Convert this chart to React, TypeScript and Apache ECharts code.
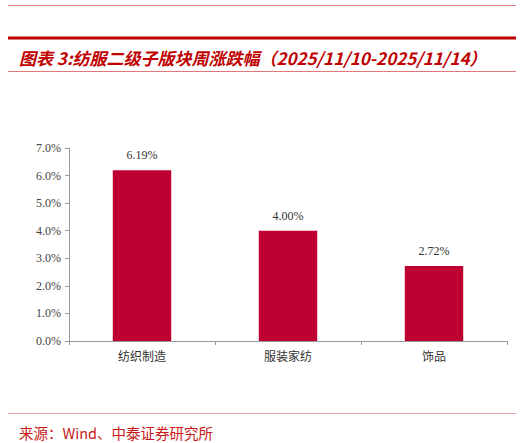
import React, { useEffect, useRef } from "react";
import * as echarts from "echarts";

const categories = ["纺织制造", "服装家纺", "饰品"];
const values = [6.19, 4.0, 2.72];
const yTicks = { min: 0, max: 7, interval: 1 };
const titleText = "图表 3:纺服二级子版块周涨跌幅（2025/11/10-2025/11/14）";
const sourceText = "来源：Wind、中泰证券研究所";

export default function App() {
  const ref = useRef<HTMLDivElement>(null);
  useEffect(() => {
    if (!ref.current) return;
    const chart = echarts.init(ref.current, undefined, { renderer: "svg" });
    chart.setOption({
      animation: false,
      backgroundColor: "#ffffff",
      grid: { left: 69, right: 24, top: 148, bottom: 102 },
      xAxis: {
        type: "category",
        data: categories,
        axisLine: { lineStyle: { color: "#999999", width: 1 } },
        axisTick: { show: true, length: 4, alignWithLabel: false, lineStyle: { color: "#999999" } },
        axisLabel: {
          color: "#333333",
          fontSize: 12,
          margin: 10,
          fontFamily: "'Liberation Serif', 'Noto Sans CJK SC', serif",
        },
      },
      yAxis: {
        type: "value",
        min: yTicks.min,
        max: yTicks.max,
        interval: yTicks.interval,
        splitLine: { show: false },
        axisLine: { show: true, lineStyle: { color: "#999999", width: 1 } },
        axisTick: { show: true, length: 4, lineStyle: { color: "#999999" } },
        axisLabel: {
          color: "#444444",
          fontSize: 12,
          margin: 8,
          fontFamily: "'Liberation Serif', serif",
          formatter: (v: number) => v.toFixed(1) + "%",
        },
      },
      series: [
        {
          type: "bar",
          data: values,
          barWidth: "40%",
          itemStyle: { color: "#be0030" },
          label: {
            show: true,
            position: "top",
            distance: 9,
            color: "#333333",
            fontSize: 12,
            fontFamily: "'Liberation Serif', serif",
            formatter: (p: any) => Number(p.value).toFixed(2) + "%",
          },
        },
      ],
      graphic: [
        { type: "line", shape: { x1: 8, y1: 5.5, x2: 516, y2: 5.5 }, style: { stroke: "#e07a7a", lineWidth: 1 } },
        { type: "line", shape: { x1: 8, y1: 38, x2: 516, y2: 38 }, style: { stroke: "#c00000", lineWidth: 3 } },
        {
          type: "text",
          x: 19,
          y: 57,
          style: {
            text: titleText,
            fill: "#c00000",
            fontSize: 17,
            fontWeight: "bold",
            fontStyle: "italic",
            fontFamily: "'Noto Sans CJK SC', 'Liberation Sans', sans-serif",
            textVerticalAlign: "middle",
          },
        },
        { type: "line", shape: { x1: 8, y1: 71.5, x2: 516, y2: 71.5 }, style: { stroke: "#e07a7a", lineWidth: 1 } },
        { type: "line", shape: { x1: 8, y1: 413.5, x2: 516, y2: 413.5 }, style: { stroke: "#eaa0a0", lineWidth: 1 } },
        {
          type: "text",
          x: 19,
          y: 432,
          style: {
            text: sourceText,
            fill: "#c81818",
            fontSize: 14.5,
            fontFamily: "'Noto Sans CJK SC', 'Liberation Sans', sans-serif",
            textVerticalAlign: "middle",
          },
        },
      ],
    });
    return () => chart.dispose();
  }, []);
  return (
    <div
      ref={ref}
      style={{ position: "fixed", left: 0, top: 0, width: 531, height: 443 }}
    />
  );
}
